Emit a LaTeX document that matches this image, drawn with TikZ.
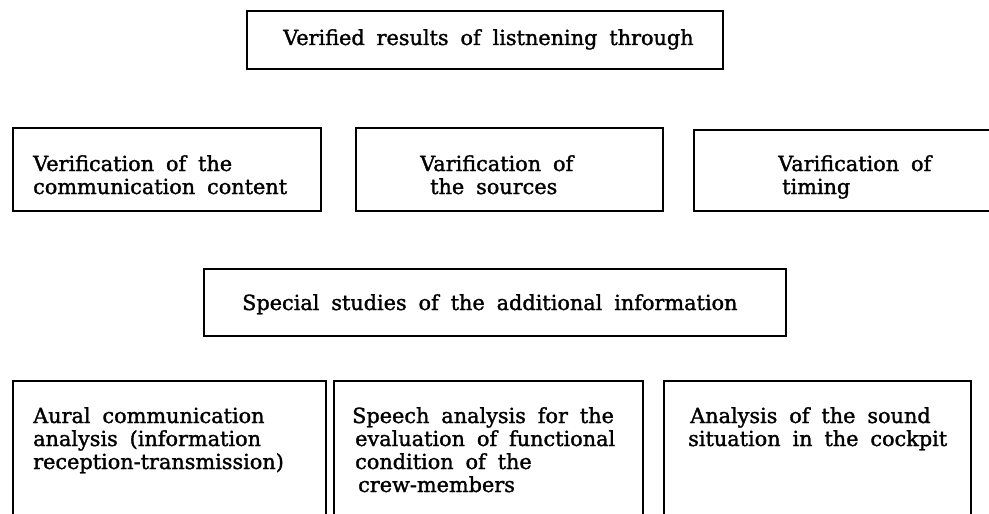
\documentclass[tikz,border=0pt]{standalone}
\usepackage{fontspec}
\setmainfont{DejaVu Serif}[WordSpace=1.8, FakeBold=1.5]
\begin{document}
\begin{tikzpicture}[x=1pt,y=-1pt,
  box/.style={draw, line width=2pt, anchor=north west, inner sep=0pt},
  lbl/.style={anchor=base west, inner sep=0pt, font=\fontsize{20.8}{23.5}\selectfont}]
\useasboundingbox (0,0) rectangle (989,514);
\clip (0,0) rectangle (989,514);
% boxes
\node[box, minimum width=476pt, minimum height=58pt] (top) at (246,10) {};
\node[box, minimum width=308pt, minimum height=83pt] (r2a) at (12,127) {};
\node[box, minimum width=307pt, minimum height=83pt] (r2b) at (355,127) {};
\node[box, minimum width=310pt, minimum height=81pt] (r2c) at (693,129) {};
\node[box, minimum width=582pt, minimum height=67pt] (r3) at (203,268) {};
\node[box, minimum width=313pt, minimum height=160pt] (r4a) at (12,380) {};
\node[box, minimum width=309pt, minimum height=160pt] (r4b) at (333,380) {};
\node[box, minimum width=307pt, minimum height=160pt] (r4c) at (663,380) {};
% texts
\node[lbl] (ttop) at (283,45) {Verified results of listnening through};
\node[lbl] (t2a1) at (33,171) {Verification of the};
\node[lbl] (t2a2) at (33,194) {communication content};
\node[lbl] (t2b1) at (420,171) {Varification of};
\node[lbl] (t2b2) at (430,194) {the sources};
\node[lbl] (t2c1) at (778,171) {Varification of};
\node[lbl] (t2c2) at (782,194) {timing};
\node[lbl] (t3) at (242,310) {Special studies of the additional information};
\node[lbl] (t4a1) at (33,423) {Aural communication};
\node[lbl] (t4a2) at (33,446) {analysis (information};
\node[lbl] (t4a3) at (33,469) {reception-transmission)};
\node[lbl] (t4b1) at (352,423) {Speech analysis for the};
\node[lbl] (t4b2) at (355,446) {evaluation of functional};
\node[lbl] (t4b3) at (355,469) {condition of the};
\node[lbl] (t4b4) at (358,492) {crew-members};
\node[lbl] (t4c1) at (690,423) {Analysis of the sound};
\node[lbl] (t4c2) at (688,446) {situation in the cockpit};
\end{tikzpicture}
\end{document}
